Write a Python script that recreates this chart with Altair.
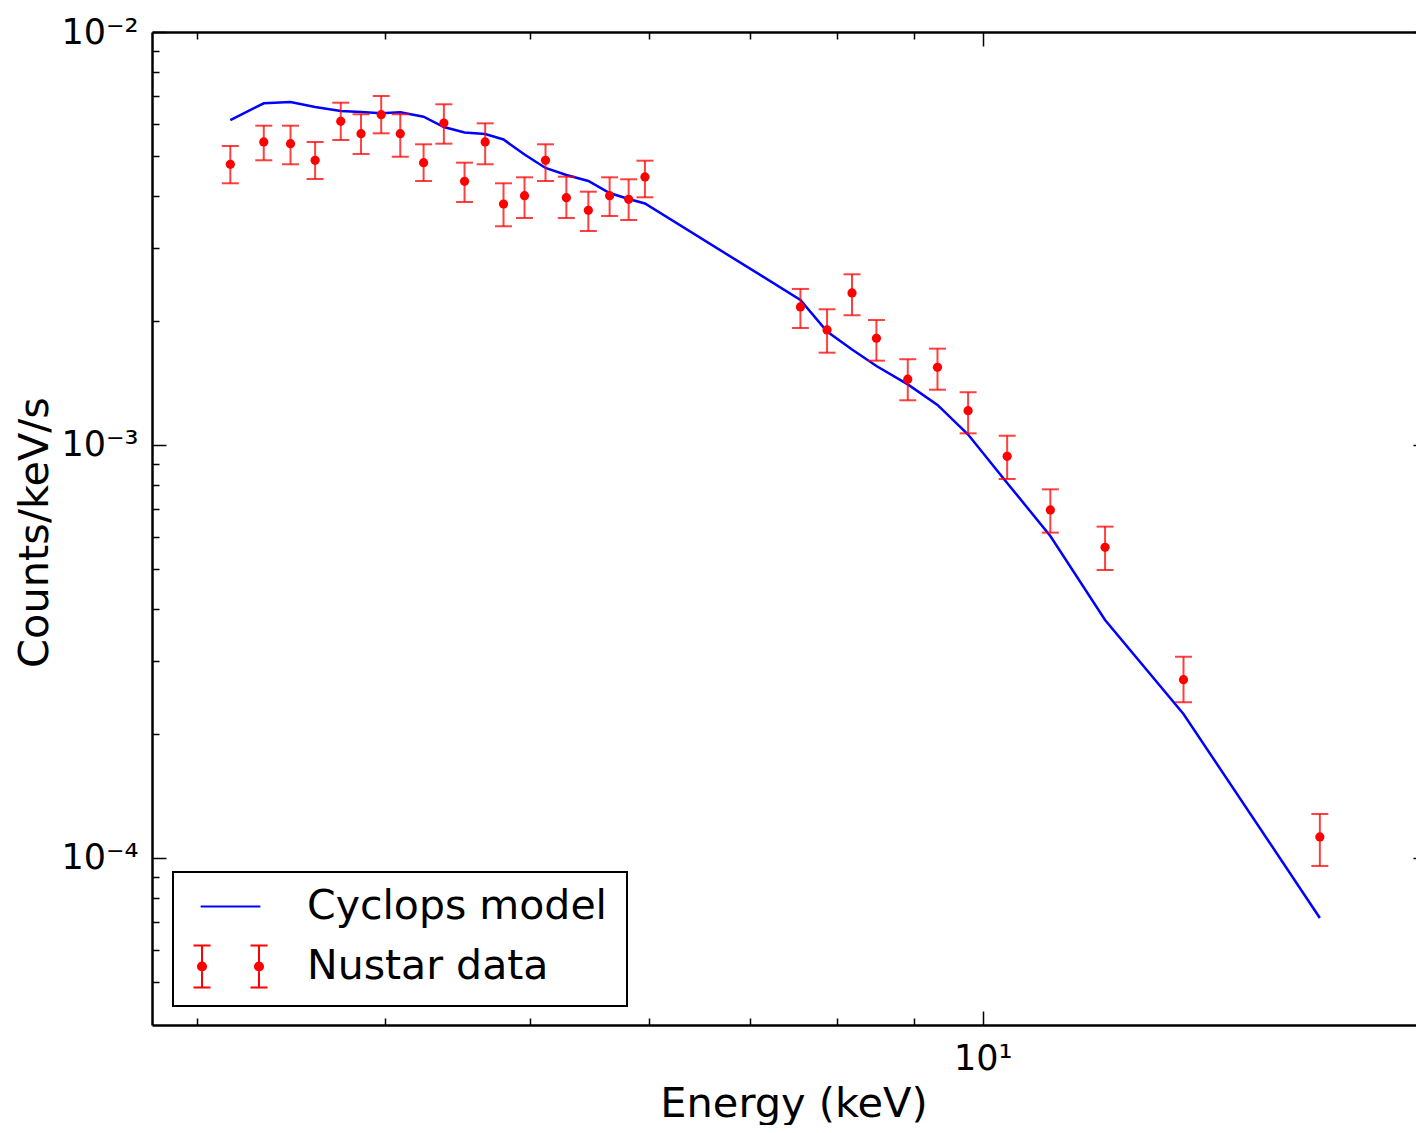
import altair as alt
import pandas as pd

# ---- data ----
energy = [3.157, 3.323, 3.462, 3.595, 3.739, 3.857, 3.978, 4.096, 4.245, 4.379,
          4.520, 4.665, 4.798, 4.955, 5.117, 5.283, 5.464, 5.645, 5.812, 5.959,
          7.562, 7.877, 8.184, 8.496, 8.914, 9.329, 9.777, 10.38, 11.09, 12.06,
          13.60, 16.76]
counts = [4.783e-3, 5.416e-3, 5.365e-3, 4.891e-3, 6.078e-3, 5.672e-3, 6.307e-3, 5.672e-3,
          4.826e-3, 6.021e-3, 4.350e-3, 5.416e-3, 3.833e-3, 4.014e-3, 4.891e-3, 3.970e-3,
          3.701e-3, 4.014e-3, 3.935e-3, 4.456e-3, 2.159e-3, 1.899e-3, 2.334e-3, 1.813e-3,
          1.443e-3, 1.542e-3, 1.211e-3, 9.389e-4, 6.963e-4, 5.653e-4, 2.702e-4, 1.124e-4]
err_lo = [4.302e-3, 4.891e-3, 4.783e-3, 4.406e-3, 5.476e-3, 5.066e-3, 5.684e-3, 4.990e-3,
          4.357e-3, 5.365e-3, 3.876e-3, 4.783e-3, 3.385e-3, 3.545e-3, 4.357e-3, 3.545e-3,
          3.297e-3, 3.585e-3, 3.506e-3, 3.979e-3, 1.920e-3, 1.673e-3, 2.061e-3, 1.600e-3,
          1.283e-3, 1.361e-3, 1.067e-3, 8.272e-4, 6.134e-4, 4.981e-4, 2.382e-4, 9.564e-5]
err_hi = [5.296e-3, 5.931e-3, 5.931e-3, 5.416e-3, 6.743e-3, 6.321e-3, 6.999e-3, 6.321e-3,
          5.347e-3, 6.683e-3, 4.826e-3, 6.010e-3, 4.302e-3, 4.448e-3, 5.347e-3, 4.463e-3,
          4.105e-3, 4.448e-3, 4.399e-3, 4.880e-3, 2.387e-3, 2.131e-3, 2.590e-3, 2.007e-3,
          1.613e-3, 1.711e-3, 1.342e-3, 1.053e-3, 7.808e-4, 6.342e-4, 3.072e-4, 1.278e-4]
model = [6.122e-3, 6.720e-3, 6.769e-3, 6.583e-3, 6.438e-3, 6.402e-3, 6.356e-3, 6.391e-3,
         6.237e-3, 5.888e-3, 5.710e-3, 5.662e-3, 5.492e-3, 5.051e-3, 4.685e-3, 4.506e-3,
         4.357e-3, 4.075e-3, 3.941e-3, 3.844e-3, 2.245e-3, 1.883e-3, 1.703e-3, 1.553e-3,
         1.402e-3, 1.250e-3, 1.060e-3, 8.091e-4, 6.021e-4, 3.769e-4, 2.232e-4, 7.157e-5]

series_names = ["Cyclops model", "Nustar data"]
x_major = [10]
x_minor = [3, 4, 5, 6, 7, 8, 9]
y_major = [1e-4, 1e-3, 1e-2]
y_minor = [5e-5, 6e-5, 7e-5, 8e-5, 9e-5,
           2e-4, 3e-4, 4e-4, 5e-4, 6e-4, 7e-4, 8e-4, 9e-4,
           2e-3, 3e-3, 4e-3, 5e-3, 6e-3, 7e-3, 8e-3, 9e-3]
x_label_expr = "datum.value == 10 ? '10¹' : ''"
y_label_expr = ("datum.value == 0.01 ? '10⁻²' : datum.value == 0.001 ? '10⁻³' : "
                "datum.value == 0.0001 ? '10⁻⁴' : ''")

# legend glyphs (custom symbol paths, unit = half the symbol box);
# the trailing move-to points only widen / deepen the legend frame
line_path = "M-1.03,0L1.03,0M13.35,0"


def _dot(cx):
    s = ""
    for r in (0.14, 0.09, 0.035):
        s += (f"M{cx + r:.3f},0A{r},{r},0,1,1,{cx - r:.3f},0"
              f"A{r},{r},0,1,1,{cx + r:.3f},0Z")
    return s


err_path = ("M-0.983,-0.724L-0.983,0.724M-1.276,-0.724L-0.69,-0.724M-1.276,0.724L-0.69,0.724"
            "M0.983,-0.724L0.983,0.724M0.69,-0.724L1.276,-0.724M0.69,0.724L1.276,0.724"
            + _dot(-0.983) + _dot(0.983) + "M0,1.05")

model_df = pd.DataFrame({"energy": energy, "model": model})
data_df = pd.DataFrame({"energy": energy, "counts": counts, "lo": err_lo, "hi": err_hi,
                        "series": ["Nustar data"] * len(energy)})

W, H = 1264, 993
FONT = "DejaVu Sans"

xscale = alt.Scale(type="log", domain=[2.8, 19.42], nice=False)
yscale = alt.Scale(type="log", domain=[3.94e-5, 1e-2], nice=False)

TICK = dict(labels=False, title=None, grid=False, domain=False,
            tickColor="black", tickWidth=1.5)

# bottom axis: labels, title, spine
x_axis_bottom = alt.Axis(
    orient="bottom", values=x_major + x_minor, labelExpr=x_label_expr, ticks=False,
    tickSize=0, labelPadding=16, labelFontSize=35, labelBaseline="top", labelAlign="center",
    labelFlush=False, labelOverlap=False,
    title="Energy (keV)", titleFontSize=41.5, titleFontWeight="normal",
    titleX=641.5, titleY=91, titleBaseline="alphabetic", titleAlign="center",
    grid=False, domainWidth=2.5, domainColor="black",
)
# inward ticks on the bottom spine (axis oriented top, moved to the bottom)
x_in_bottom_major = alt.Axis(orient="top", offset=-H, values=x_major, tickSize=14, **TICK)
x_in_bottom_minor = alt.Axis(orient="top", offset=-H, values=x_minor, tickSize=7, **TICK)
# top spine with inward ticks (axis oriented bottom, moved to the top)
x_top_major = alt.Axis(orient="bottom", offset=-H, values=x_major, tickSize=14,
                       labels=False, title=None, grid=False, domain=True,
                       domainWidth=2.5, domainColor="black", tickColor="black", tickWidth=1.5)
x_top_minor = alt.Axis(orient="bottom", offset=-H, values=x_minor, tickSize=7, **TICK)

y_axis_left = alt.Axis(
    orient="left", values=y_major, labelExpr=y_label_expr, ticks=False, tickSize=0,
    labelPadding=14, labelFontSize=35, labelBaseline="middle", labelAlign="right",
    labelOverlap=False, labelFlush=False,
    title="Counts/keV/s", titleFontSize=41.5, titleFontWeight="normal",
    titleX=-105, titleY=500, titleAngle=270, titleBaseline="alphabetic", titleAlign="center",
    grid=False, domainWidth=2.5, domainColor="black",
)
y_in_left_major = alt.Axis(orient="right", offset=-W, values=y_major, tickSize=14, **TICK)
y_in_left_minor = alt.Axis(orient="right", offset=-W, values=y_minor, tickSize=7, **TICK)
# right spine lies just beyond the picture edge; only the tips of its major ticks show
y_in_right_major = alt.Axis(orient="left", offset=-(W + 11), values=y_major, tickSize=14, **TICK)

line = alt.Chart(model_df).mark_line(color="#0000ff", strokeWidth=2.5).encode(
    x=alt.X("energy:Q", scale=xscale, axis=x_axis_bottom),
    y=alt.Y("model:Q", scale=yscale, axis=y_axis_left),
)

bars = alt.Chart(data_df).mark_rule(color="#ff0000", strokeWidth=2, opacity=0.75).encode(
    x=alt.X("energy:Q", scale=xscale, axis=x_in_bottom_major),
    y=alt.Y("lo:Q", scale=yscale, axis=y_in_left_major),
    y2="hi:Q",
)

cap_lo = alt.Chart(data_df).mark_tick(orient="horizontal", size=17, thickness=2,
                                      color="#ff0000", opacity=0.75).encode(
    x=alt.X("energy:Q", scale=xscale, axis=x_in_bottom_minor),
    y=alt.Y("lo:Q", scale=yscale, axis=y_in_left_minor),
)
cap_hi = alt.Chart(data_df).mark_tick(orient="horizontal", size=17, thickness=2,
                                      color="#ff0000", opacity=0.75).encode(
    x=alt.X("energy:Q", scale=xscale, axis=x_top_major),
    y=alt.Y("hi:Q", scale=yscale, axis=y_in_right_major),
)

points = alt.Chart(data_df).mark_circle(size=85, opacity=1, color="#ff0000").encode(
    x=alt.X("energy:Q", scale=xscale, axis=x_top_minor),
    y=alt.Y("counts:Q", scale=yscale, axis=None),
)

legend = alt.Legend(
    orient="none", legendX=21, legendY=840, title=None, padding=4.5,
    symbolSize=3364, symbolOffset=23, labelOffset=46.5, labelFontSize=41,
    labelLimit=1000, labelFont=FONT, labelColor="black",
    strokeColor="black", fillColor="white", cornerRadius=0, rowPadding=10,
    symbolStrokeWidth=2, symbolOpacity=1,
)

# invisible layer that only carries the legend (colour + glyph per series)
legend_layer = alt.Chart(data_df).mark_point(filled=False, opacity=0, strokeWidth=2).encode(
    x=alt.X("energy:Q", scale=xscale, axis=None),
    y=alt.Y("counts:Q", scale=yscale, axis=None),
    color=alt.Color("series:N",
                    scale=alt.Scale(domain=series_names, range=["#0000ff", "#ff0000"]),
                    legend=legend),
    shape=alt.Shape("series:N",
                    scale=alt.Scale(domain=series_names, range=[line_path, err_path]),
                    legend=legend),
)

chart = alt.layer(line, bars, cap_lo, cap_hi, points, legend_layer).resolve_axis(
    x="independent", y="independent"
).properties(
    width=W, height=H,
    autosize=alt.AutoSizeParams(type="none"),
    padding={"left": 144, "top": 24, "right": 0, "bottom": 100},
    background="white",
).configure_view(stroke=None).configure_axis(
    labelFont=FONT, titleFont=FONT, labelColor="black", titleColor="black"
).configure_legend(labelFont=FONT, strokeWidth=2)

chart.save("out.html", embed_options={"renderer": "svg", "actions": False})
